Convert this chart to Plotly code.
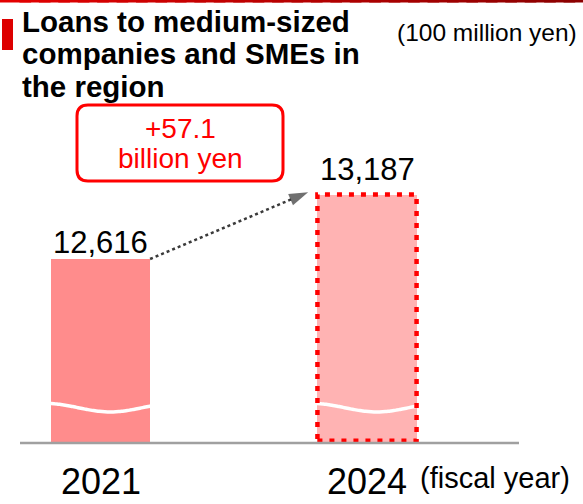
import numpy as np
import plotly.graph_objects as go

# Data (100 million yen)
years = ["2021", "2024"]
loans = [12616, 13187]
change_value = "+57.1"
change_unit = "billion yen"
title_lines = ["Loans to medium-sized", "companies and SMEs in", "the region"]
unit_text = "(100 million yen)"
period_text = "(fiscal year)"

W, H = 583, 504
FONT = "Liberation Sans, Arial, sans-serif"
RED = "#FF0000"
BAR_COLORS = ["#FF8C8C", "#FFB3B3"]
BAR_W = 0.372


def px(x):
    return x / W


def py(y):
    return 1 - y / H


# broken value axis: plot area spans pixel rows 0..443
Y_MIN, Y_MAX = 10987, 14909
BREAK_LEVEL = 11300
xs = np.arange(len(years))

fig = go.Figure()

fig.add_trace(go.Bar(
    x=xs, y=loans, width=BAR_W,
    marker=dict(color=BAR_COLORS, line=dict(width=0)),
    hoverinfo="skip", showlegend=False,
))

# wavy break marks across each bar
t = np.linspace(0, 1, 40)
for i in xs:
    wx = i - BAR_W / 2 - 0.02 + t * (BAR_W + 0.04)
    wy = BREAK_LEVEL + 38 * np.cos(2 * np.pi * 0.85 * t)
    fig.add_trace(go.Scatter(
        x=wx, y=wy, mode="lines",
        line=dict(color="white", width=3.5, shape="spline"),
        hoverinfo="skip", showlegend=False,
    ))

# dotted arrow from first bar top to second bar top
ax0 = xs[0] + BAR_W / 2
ax1 = xs[1] - BAR_W / 2 - 0.035
fig.add_trace(go.Scatter(
    x=[ax0, ax1], y=[loans[0], loans[1] + 20], mode="lines+markers",
    line=dict(color="#3A3A3A", width=2.5, dash="dot"),
    marker=dict(symbol=["circle", "arrow"], size=[0, 20], color="#333333",
                angleref="previous", line=dict(width=0)),
    hoverinfo="skip", showlegend=False,
))

annotations = []

# value labels above the bars
for i, v, shift in zip(xs, loans, [17, 25]):
    annotations.append(dict(
        x=i, y=v, xref="x", yref="y", text=f"{v:,}", showarrow=False,
        xanchor="center", yanchor="middle", yshift=shift,
        font=dict(family=FONT, size=31, color="#000000"),
    ))

shapes = []

# dotted outline around the latest bar
shapes.append(dict(
    type="rect", xref="x", yref="y", layer="above",
    x0=xs[1] - BAR_W / 2, x1=xs[1] + BAR_W / 2, y0=Y_MIN + 20, y1=loans[1],
    line=dict(color=RED, width=4.5, dash="5px,7px"), fillcolor="rgba(0,0,0,0)",
))

# baseline
shapes.append(dict(
    type="line", xref="paper", yref="paper",
    x0=px(20), x1=px(519), y0=py(443), y1=py(443),
    line=dict(color="#A0A0A0", width=2.5),
))

# top rule with red gradient
n_seg = 30
for k in range(n_seg):
    f = k / (n_seg - 1)
    r = int(228 - 88 * f)
    shapes.append(dict(
        type="rect", xref="paper", yref="paper",
        x0=k / n_seg, x1=min(1.0, (k + 1) / n_seg + 0.02), y0=py(2.5), y1=1,
        line=dict(width=0), fillcolor=f"rgb({r},0,0)",
    ))

# title marker
shapes.append(dict(
    type="rect", xref="paper", yref="paper",
    x0=px(2), x1=px(13), y0=py(50), y1=py(19),
    line=dict(width=0), fillcolor="#DD0000",
))

# rounded callout box
bx0, bx1, by0, by1, rr = 77, 283, 105, 181, 11
path = (
    f"M {px(bx0 + rr)},{py(by0)} L {px(bx1 - rr)},{py(by0)} "
    f"Q {px(bx1)},{py(by0)} {px(bx1)},{py(by0 + rr)} "
    f"L {px(bx1)},{py(by1 - rr)} "
    f"Q {px(bx1)},{py(by1)} {px(bx1 - rr)},{py(by1)} "
    f"L {px(bx0 + rr)},{py(by1)} "
    f"Q {px(bx0)},{py(by1)} {px(bx0)},{py(by1 - rr)} "
    f"L {px(bx0)},{py(by0 + rr)} "
    f"Q {px(bx0)},{py(by0)} {px(bx0 + rr)},{py(by0)} Z"
)
shapes.append(dict(
    type="path", xref="paper", yref="paper", path=path,
    line=dict(color=RED, width=3), fillcolor="white",
))

# title, one line per annotation
for line, yc in zip(title_lines, [22, 54, 86]):
    annotations.append(dict(
        x=px(20), y=py(yc), xref="paper", yref="paper", text=f"<b>{line}</b>",
        showarrow=False, xanchor="left", yanchor="middle",
        font=dict(family=FONT, size=29.5, color="#000000"),
    ))

annotations += [
    dict(x=px(579), y=py(33), xref="paper", yref="paper", text=unit_text,
         showarrow=False, xanchor="right", yanchor="middle",
         font=dict(family=FONT, size=24.5, color="#000000")),
    dict(x=px(180), y=py(128), xref="paper", yref="paper", text=change_value,
         showarrow=False, xanchor="center", yanchor="middle",
         font=dict(family=FONT, size=28, color=RED)),
    dict(x=px(180), y=py(158), xref="paper", yref="paper", text=change_unit,
         showarrow=False, xanchor="center", yanchor="middle",
         font=dict(family=FONT, size=28, color=RED)),
    dict(x=px(418), y=py(478), xref="paper", yref="paper", text=period_text,
         showarrow=False, xanchor="left", yanchor="middle",
         font=dict(family=FONT, size=29, color="#000000")),
]
for i, yr in zip(xs, years):
    annotations.append(dict(
        x=i, xref="x", y=py(481), yref="paper", text=yr, showarrow=False,
        xanchor="center", yanchor="middle",
        font=dict(family=FONT, size=36, color="#000000"),
    ))

# category 0 centred at px 100.5, category 1 at px 367
unit = 367 - 100.5
fig.update_layout(
    width=W, height=H,
    margin=dict(l=0, r=0, t=0, b=0),
    paper_bgcolor="white", plot_bgcolor="white",
    xaxis=dict(range=[-100.5 / unit, (W - 100.5) / unit], visible=False, fixedrange=True),
    yaxis=dict(range=[Y_MIN, Y_MAX], domain=[1 - 443 / H, 1], visible=False, fixedrange=True),
    shapes=shapes,
    annotations=annotations,
    bargap=0,
    showlegend=False,
)

fig.write_html("out.html")
